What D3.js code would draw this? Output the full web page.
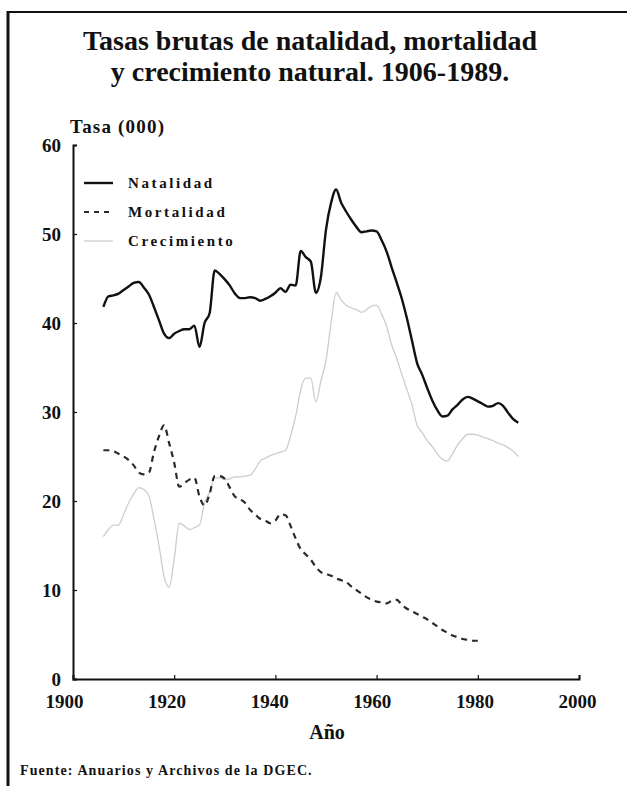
<!DOCTYPE html>
<html><head><meta charset="utf-8">
<script src="https://cdn.jsdelivr.net/npm/d3@7"></script>
<style>
html,body{margin:0;padding:0;background:#fff;}
svg{display:block;}
text{font-family:"Liberation Serif","Times New Roman",serif;font-weight:bold;fill:#111;}
</style></head>
<body>
<svg id="c" width="627" height="786"></svg>
<script>
const years = d3.range(1906, 1989);
const natalidad = [41.8,43.0,43.1,43.3,43.7,44.1,44.5,44.6,44.0,43.2,41.8,40.3,38.8,38.3,38.8,39.1,39.3,39.3,39.7,37.3,
40.0,41.1,45.9,45.5,44.9,44.2,43.3,42.8,42.8,42.9,42.8,42.5,42.7,43.0,43.4,43.9,43.5,44.3,44.2,48.1,
47.4,46.9,43.4,45.2,50.5,53.5,55.0,53.5,52.5,51.6,50.8,50.2,50.3,50.4,50.3,49.3,48.0,46.2,44.5,42.7,
40.5,38.0,35.5,34.2,32.7,31.3,30.2,29.5,29.6,30.3,30.8,31.4,31.7,31.5,31.2,30.9,30.6,30.7,31.0,30.7,
29.9,29.2,28.8];
const mortalidadYears = d3.range(1906, 1981);
const mortalidad = [25.7,25.7,25.6,25.3,25.0,24.6,24.0,23.2,23.0,23.2,25.5,27.3,28.5,26.5,24.3,21.6,22.0,22.4,22.6,20.5,
19.5,20.8,22.8,22.8,22.5,21.5,20.5,20.2,19.8,19.0,18.5,18.0,17.8,17.5,17.8,18.5,18.4,17.2,15.8,14.6,
14.0,13.4,12.6,12.0,11.8,11.6,11.3,11.1,10.9,10.4,10.0,9.6,9.2,8.9,8.7,8.6,8.5,8.8,8.9,8.3,
7.9,7.6,7.3,7.0,6.7,6.3,5.9,5.5,5.2,4.9,4.7,4.5,4.4,4.3,4.3];
const crecimiento = [16.0,16.8,17.3,17.3,18.5,19.8,20.8,21.5,21.3,20.6,18.0,15.0,11.5,10.3,13.5,17.5,17.2,16.8,17.0,17.3,
19.8,21.0,22.6,22.6,22.4,22.5,22.7,22.7,22.8,22.9,23.6,24.5,24.8,25.1,25.3,25.5,25.7,27.3,29.5,32.5,
33.8,33.8,31.1,33.5,35.8,40.0,43.4,42.6,42.0,41.7,41.5,41.2,41.5,41.9,42.0,41.0,39.6,37.5,36.0,34.2,
32.5,30.8,28.5,27.7,26.8,26.1,25.3,24.7,24.5,25.3,26.3,27.0,27.5,27.5,27.4,27.2,27.0,26.8,26.5,26.3,
26.0,25.6,25.0];
const xTicks = [1900,1920,1940,1960,1980,2000];
const yTicks = [0,10,20,30,40,50,60];
const seriesNames = ["Natalidad","Mortalidad","Crecimiento"];
const titleLines = ["Tasas brutas de natalidad, mortalidad","y crecimiento natural. 1906-1989."];

const svg = d3.select("#c");
// frame
svg.append("line").attr("x1",8).attr("x2",627).attr("y1",12).attr("y2",12).attr("stroke","#111").attr("stroke-width",2);
svg.append("line").attr("x1",8).attr("x2",8).attr("y1",11).attr("y2",786).attr("stroke","#111").attr("stroke-width",3);

svg.selectAll(".title").data(titleLines).enter().append("text")
  .attr("x",310).attr("y",(d,i)=>50+i*31).attr("text-anchor","middle")
  .style("font-size","28px").text(d=>d);

const x = d3.scaleLinear().domain([1900,2000]).range([73,579]);
const y = d3.scaleLinear().domain([0,60]).range([679,145]);

const gx = svg.append("g").attr("transform","translate(0,679)")
  .call(d3.axisBottom(x).tickValues(xTicks).tickFormat(d3.format("d")).tickSize(-4).tickPadding(10));
const gy = svg.append("g").attr("transform","translate(73,0)")
  .call(d3.axisLeft(y).tickValues(yTicks).tickSize(-4).tickPadding(10));
[gx,gy].forEach(g=>{
  g.select(".domain").attr("stroke","#111").attr("stroke-width",2);
  g.selectAll(".tick line").attr("stroke","#111").attr("stroke-width",1.2);
  g.selectAll(".tick text").style("font-family","'Liberation Serif',serif").style("font-weight","bold")
    .style("font-size","19px").attr("fill","#111");
});
gx.selectAll(".tick text").attr("dy","1.0em").attr("dx",(d,i)=>(-9 + i*1.4)+"px");
gy.selectAll(".tick text").attr("dx","-2px");

svg.append("text").attr("x",70).attr("y",133).style("font-size","19px").style("letter-spacing","1.2px").text("Tasa (000)");
svg.append("text").attr("x",327).attr("y",739).attr("text-anchor","middle").style("font-size","20px").text("Año");
svg.append("text").attr("x",20).attr("y",775).style("font-size","14px").style("letter-spacing","1.1px")
  .text("Fuente: Anuarios y Archivos de la DGEC.");

const line = d3.line().x(d=>x(d[0])).y(d=>y(d[1])).curve(d3.curveMonotoneX);
const styles = [
  {stroke:"#111", w:2.4, dash:null},
  {stroke:"#2a2a2a", w:2.2, dash:"6,5"},
  {stroke:"#cdcdcd", w:1.3, dash:null}
];
const dataSets = [
  years.map((yr,i)=>[yr,natalidad[i]]),
  mortalidadYears.map((yr,i)=>[yr,mortalidad[i]]),
  years.map((yr,i)=>[yr,crecimiento[i]])
];
[2,1,0].forEach(k=>{
  svg.append("path").datum(dataSets[k]).attr("d",line).attr("fill","none")
    .attr("stroke",styles[k].stroke).attr("stroke-width",styles[k].w)
    .attr("stroke-dasharray",styles[k].dash).attr("stroke-linejoin","round");
});

// legend
const lg = svg.append("g");
seriesNames.forEach((n,k)=>{
  const yy = [183,212,241][k];
  lg.append("line").attr("x1",84).attr("x2",113).attr("y1",yy).attr("y2",yy)
    .attr("stroke",styles[k].stroke).attr("stroke-width",styles[k].w).attr("stroke-dasharray",k===1?"5,5":styles[k].dash);
  lg.append("text").attr("x",128).attr("y",yy+5).style("font-size","15px").style("letter-spacing","2.6px").text(n);
});
</script>
</body></html>
